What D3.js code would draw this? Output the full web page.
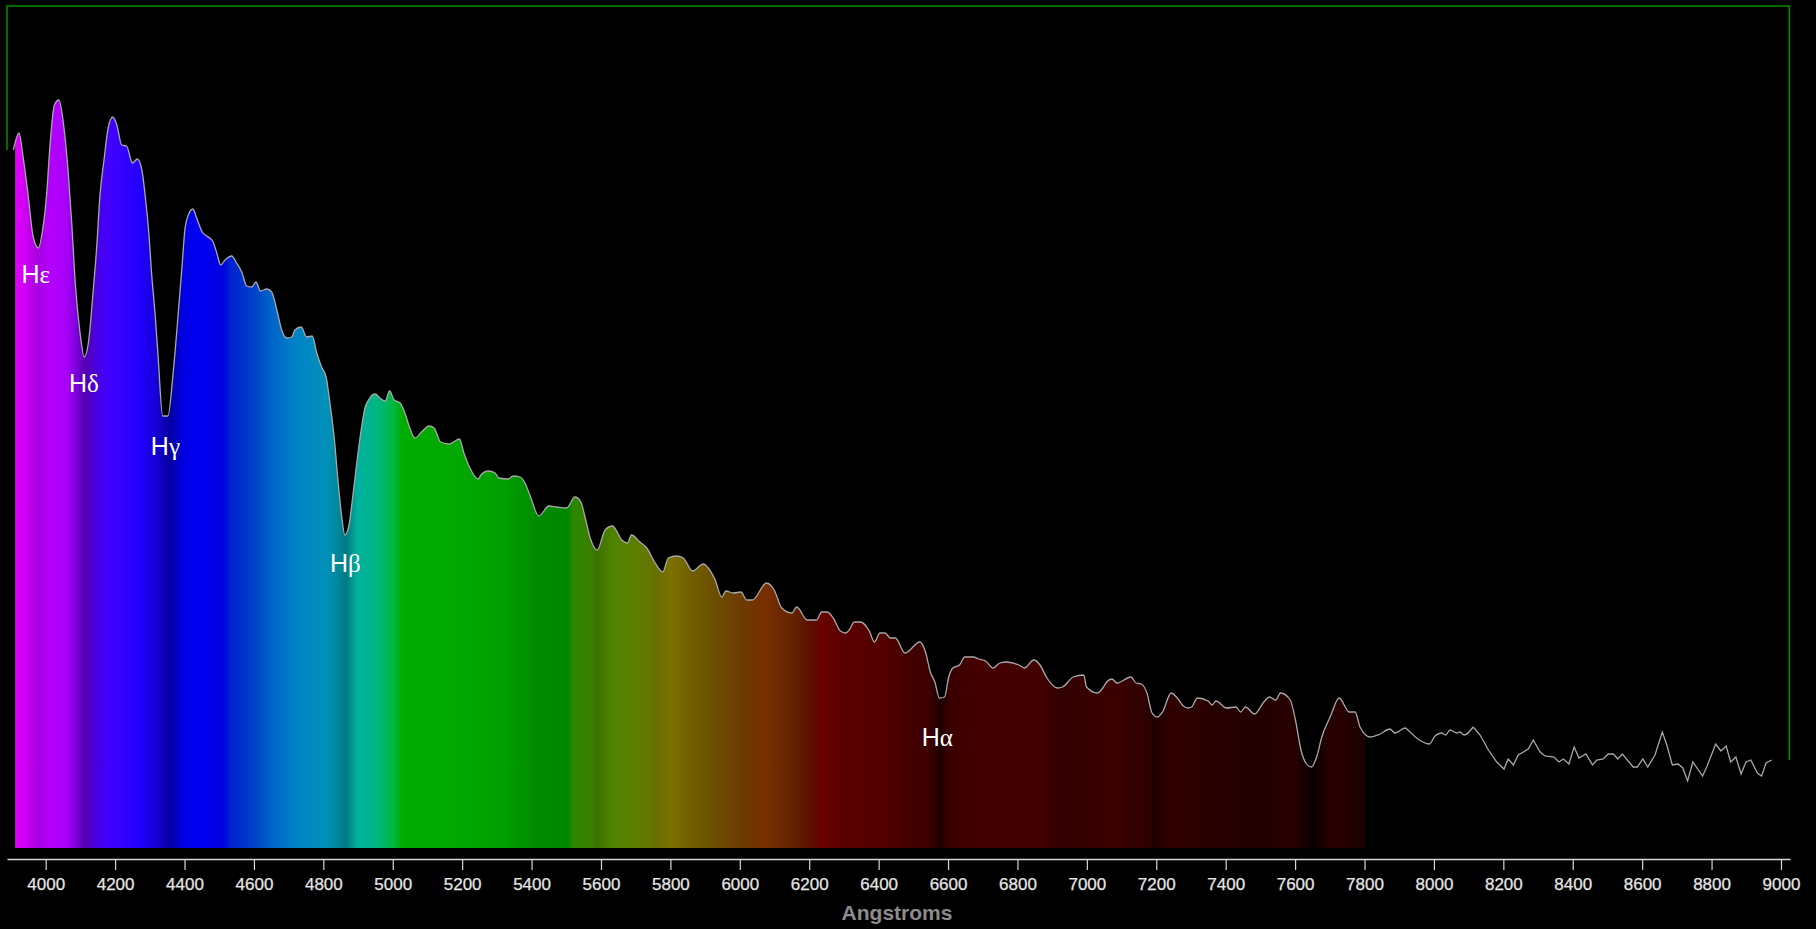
<!DOCTYPE html>
<html><head><meta charset="utf-8">
<style>
html,body{margin:0;padding:0;background:#000;overflow:hidden}
svg{display:block}
.axis text{font-family:"Liberation Sans",Arial,sans-serif;font-size:17px;fill:#e6e6e6;stroke:#e6e6e6;stroke-width:.25px}
</style>
<script src="https://cdn.jsdelivr.net/npm/d3@7/dist/d3.min.js"></script>
</head><body><svg id="chart" width="1816" height="929"></svg>
<script>
const wavelengths=[3907,3923,3935,3950,3964,3979,3991,4003,4012,4025,4038,4051,4065,4075,4086,4099,4111,4123,4137,4147,4156,4168,4180,4193,4205,4219,4233,4250,4264,4277,4288,4298,4305,4315,4324,4337,4352,4368,4382,4392,4401,4411,4424,4435,4451,4464,4481,4493,4504,4517,4536,4550,4565,4579,4594,4606,4619,4637,4651,4666,4680,4694,4709,4718,4736,4752,4768,4781,4795,4808,4819,4832,4842,4853,4862,4874,4886,4901,4912,4920,4932,4949,4963,4978,4991,5004,5021,5035,5048,5064,5083,5105,5119,5138,5163,5192,5205,5221,5246,5256,5275,5295,5306,5333,5347,5367,5381,5395,5421,5450,5472,5501,5525,5542,5554,5568,5589,5612,5633,5660,5676,5688,5712,5732,5756,5778,5794,5818,5837,5864,5895,5909,5929,5948,5960,5981,6003,6020,6036,6077,6099,6121,6150,6164,6194,6221,6236,6252,6269,6290,6305,6317,6330,6347,6373,6388,6404,6418,6434,6448,6476,6519,6535,6549,6562,6575,6590,6602,6614,6633,6648,6673,6688,6708,6730,6749,6769,6804,6820,6847,6865,6885,6915,6930,6961,6991,6999,7031,7046,7057,7072,7087,7127,7142,7157,7173,7188,7203,7218,7243,7258,7278,7291,7302,7319,7349,7361,7372,7402,7430,7443,7457,7483,7510,7526,7544,7558,7586,7601,7617,7631,7647,7662,7677,7701,7727,7756,7773,7787,7816,7845,7873,7888,7917,7925,7950,7987,8003,8022,8034,8046,8066,8075,8087,8113,8133,8157,8181,8202,8214,8229,8243,8272,8286,8306,8320,8346,8360,8373,8389,8404,8418,8438,8457,8469,8488,8502,8517,8530,8543,8574,8586,8602,8616,8637,8658,8671,8687,8704,8717,8731,8746,8774,8786,8812,8827,8842,8855,8870,8885,8899,8913,8932,8944,8957,8973];
const flux=[698,715,691,651,611,600,618,655,701,743,748,725,675,625,561,515,491,505,558,601,651,688,720,731,723,703,702,685,689,678,648,611,575,535,491,432,432,478,535,578,618,633,639,630,616,612,607,595,583,588,592,585,576,562,561,566,557,559,556,538,518,510,511,518,521,511,512,495,481,471,445,408,368,331,313,323,355,398,425,440,449,454,450,447,457,448,445,435,421,410,416,422,420,406,404,409,395,381,369,374,377,375,370,369,372,371,365,353,332,342,341,340,351,346,331,311,298,318,322,308,305,313,306,300,285,276,290,292,290,277,284,280,268,251,257,255,256,248,248,265,258,240,235,241,228,228,236,236,230,217,215,219,226,226,217,206,215,215,210,210,195,206,196,176,166,150,151,171,180,183,191,191,189,187,180,185,186,183,180,188,183,170,160,161,171,173,161,155,160,166,169,165,171,165,164,155,135,131,136,155,151,142,140,141,150,147,143,147,140,141,136,141,134,146,151,148,155,148,128,98,85,81,91,111,131,150,136,136,121,111,114,119,115,120,118,110,104,112,115,113,118,115,116,113,121,113,98,86,79,89,83,93,99,108,96,92,91,86,89,84,101,90,94,83,88,89,94,94,89,94,81,81,89,81,93,116,103,83,84,80,67,86,72,81,104,97,102,86,91,74,86,88,75,72,85,88];
const stopWavelengths=[3912,3946,3978,4012,4061,4090,4113,4148,4177,4263,4309,4358,4396,4436,4511,4531,4597,4646,4712,4810,4838,4866,4898,4955,5001,5027,5194,5251,5309,5424,5505,5519,5568,5588,5635,5712,5761,5799,5856,5923,6001,6078,6165,6211,6231,6309,6404,6490,6548,6577,6606,6672,6865,6923,7067,7162,7202,7240,7364,7491,7594,7652,7692,7721,7802];
const stopColors=["#e400ff","#c800f0","#a800e0","#b400ff","#a800f8","#7800d8","#5400b0","#4800e0","#4400ff","#2400ff","#1800e0","#0600a0","#0000e0","#0000f4","#0000e0","#0020d0","#0040c8","#0060c8","#0080c8","#0090b8","#008aa0","#007a80","#00b0a0","#00b880","#00b840","#00ac00","#00a800","#00a400","#00a000","#008a00","#008800","#2a8800","#3a7f00","#3a7200","#4f8400","#5f7c00","#687000","#7c7200","#706000","#6c5000","#6c3c00","#782e00","#602000","#5c0c00","#6a0000","#580000","#540000","#440000","#3c0000","#1e0000","#3a0000","#440000","#440000","#320000","#3c0000","#300000","#220000","#300000","#280000","#220000","#280000","#0a0000","#220000","#2a0000","#1a0000"];
const tickValues=d3.range(4000,9001,200);
const lineLabelBase="H";
const lineLabelGreek=["ε","δ","γ","β","α"];
const lineLabelWave=[3930,4067,4303,4819,6524];
const lineLabelFlux=[565,456,393,276,102];
const axisTitle="Angstroms";
const smoothUntil=8113;

const svg=d3.select("#chart");
const x=d3.scaleLinear().domain([3888.5,9026]).range([7,1790]);
const y=d3.scaleLinear().domain([0,842]).range([848,6]);
const pts=wavelengths.map((w,i)=>[w,flux[i]]);
const smoothPts=pts.filter(d=>d[0]<=smoothUntil);
const roughPts=pts.filter(d=>d[0]>=smoothUntil);

svg.append("rect").attr("width",1816).attr("height",929).attr("fill","#000");

const defs=svg.append("defs");
const x0=stopWavelengths[0],x1=stopWavelengths[stopWavelengths.length-1];
const grad=defs.append("linearGradient").attr("id","spectrum").attr("gradientUnits","userSpaceOnUse")
 .attr("x1",x(x0)).attr("x2",x(x1)).attr("y1",0).attr("y2",0);
stopWavelengths.forEach((w,i)=>grad.append("stop").attr("offset",(w-x0)/(x1-x0)).attr("stop-color",stopColors[i]));
defs.append("clipPath").attr("id","band").append("rect")
 .attr("x",x(x0)).attr("width",x(x1)-x(x0)).attr("y",y(842)).attr("height",y(0)-y(842));

svg.append("path").datum(smoothPts)
 .attr("d",d3.area().curve(d3.curveMonotoneX).x(d=>x(d[0])).y0(y(0)).y1(d=>y(d[1])))
 .attr("fill","url(#spectrum)").attr("clip-path","url(#band)");

svg.append("path").datum(smoothPts)
 .attr("d",d3.line().curve(d3.curveMonotoneX).x(d=>x(d[0])).y(d=>y(d[1])))
 .attr("fill","none").attr("stroke","#a8a8a8").attr("stroke-width",1.3);
svg.append("path").datum(roughPts)
 .attr("d",d3.line().x(d=>x(d[0])).y(d=>y(d[1])))
 .attr("fill","none").attr("stroke","#a8a8a8").attr("stroke-width",1.3);

// green bracket rising from the first and falling to the last reading
svg.append("path").datum([[3888.5,flux[0]],[3888.5,842],[9024,842],[9024,flux[flux.length-1]]])
 .attr("d",d3.line().x(d=>x(d[0])).y(d=>y(d[1])))
 .attr("fill","none").attr("stroke","#009000").attr("stroke-width",1.5);

const ax=svg.append("g").attr("class","axis").attr("transform","translate(0,859)")
 .call(d3.axisBottom(x).tickValues(tickValues).tickFormat(d3.format("d")).tickSize(11).tickSizeOuter(0).tickPadding(8));
ax.select(".domain").attr("stroke","#d8d8d8").attr("stroke-width",1.6);
ax.selectAll(".tick line").attr("stroke","#d8d8d8").attr("stroke-width",1.2);

const labels=svg.selectAll(".hline").data(lineLabelGreek).join("text").attr("class","hline")
 .attr("x",(d,i)=>x(lineLabelWave[i])).attr("y",(d,i)=>y(lineLabelFlux[i]))
 .attr("font-family",'"Liberation Sans",Arial,sans-serif').attr("font-size",25).attr("fill","#fff");
labels.append("tspan").text(lineLabelBase);
labels.append("tspan").attr("font-family",'"Liberation Serif","Times New Roman",serif').text(d=>d);

svg.append("text").attr("x",x(6453)).attr("y",920)
 .attr("text-anchor","middle").attr("font-family",'"Liberation Sans",Arial,sans-serif')
 .attr("font-weight","bold").attr("font-size",21).attr("fill","#8c8c8c").text(axisTitle);
</script></body></html>
